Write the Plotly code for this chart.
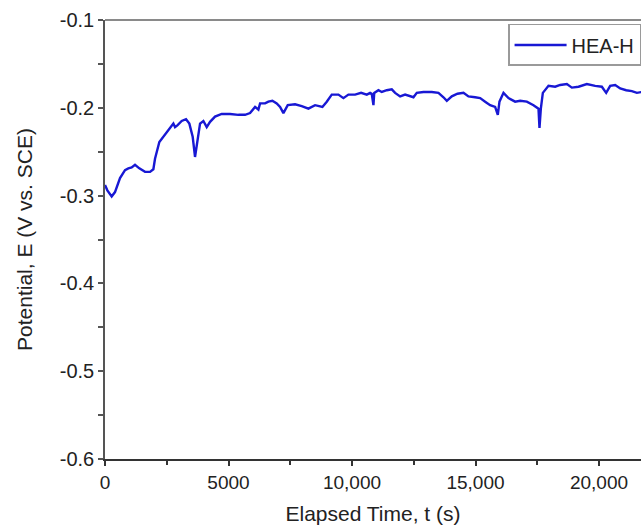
import plotly.graph_objects as go

# Elapsed time (s) and potential (V vs. SCE)
time_s = [0, 95, 270, 405, 608, 810, 945, 1080, 1215, 1390, 1620, 1823, 1958, 2025,
          2200, 2430, 2633, 2768, 2835, 2930, 3105, 3280, 3415, 3550, 3645, 3740,
          3848, 3983, 4118, 4253, 4455, 4725, 5063, 5400, 5670, 5873, 6075, 6210,
          6278, 6480, 6615, 6777, 6953, 7088, 7223, 7398, 7695, 7965, 8235, 8505,
          8802, 8978, 9180, 9450, 9653, 9855, 10125, 10368, 10598, 10733, 10800,
          10868, 10900, 11070, 11205, 11408, 11610, 11745, 11948, 12150, 12326,
          12488, 12623, 12893, 13230, 13500, 13703, 13838, 14040, 14270, 14513,
          14715, 14985, 15188, 15390, 15593, 15795, 15903, 15970, 16133, 16335,
          16605, 16808, 17078, 17348, 17550, 17590, 17645, 17726, 17955, 18225,
          18428, 18698, 18900, 19170, 19508, 19845, 20115, 20290, 20453, 20655,
          20858, 21100, 21330, 21533, 21735]
potential_v = [-0.288, -0.294, -0.301, -0.296, -0.280, -0.271, -0.269, -0.268, -0.265,
               -0.269, -0.273, -0.273, -0.270, -0.258, -0.239, -0.231, -0.223, -0.218,
               -0.222, -0.220, -0.215, -0.213, -0.218, -0.233, -0.256, -0.240, -0.218,
               -0.215, -0.222, -0.216, -0.210, -0.207, -0.207, -0.208, -0.208, -0.206,
               -0.199, -0.202, -0.195, -0.195, -0.193, -0.192, -0.195, -0.199, -0.206,
               -0.197, -0.196, -0.198, -0.201, -0.197, -0.199, -0.193, -0.185, -0.185,
               -0.189, -0.185, -0.185, -0.183, -0.185, -0.183, -0.184, -0.197, -0.183,
               -0.180, -0.182, -0.180, -0.179, -0.183, -0.187, -0.185, -0.187, -0.188,
               -0.183, -0.182, -0.182, -0.183, -0.188, -0.192, -0.187, -0.184, -0.183,
               -0.187, -0.188, -0.189, -0.193, -0.197, -0.199, -0.208, -0.193, -0.183,
               -0.189, -0.193, -0.192, -0.193, -0.197, -0.201, -0.223, -0.201, -0.183,
               -0.175, -0.176, -0.174, -0.173, -0.177, -0.176, -0.173, -0.175, -0.176,
               -0.183, -0.175, -0.174, -0.178, -0.180, -0.181, -0.183, -0.182]

series_name = "HEA-H"
x_tick_vals = [0, 5000, 10000, 15000, 20000]
x_tick_text = ["0", "5000", "10,000", "15,000", "20,000"]
y_tick_vals = [-0.6, -0.5, -0.4, -0.3, -0.2, -0.1]
y_tick_text = ["-0.6", "-0.5", "-0.4", "-0.3", "-0.2", "-0.1"]

font_family = "Liberation Sans, Arial, sans-serif"
text_color = "#222222"

fig = go.Figure()
fig.add_trace(go.Scatter(
    x=time_s, y=potential_v, mode="lines", name=series_name,
    line=dict(color="#1818d4", width=2.4),
))

fig.update_layout(
    width=641, height=531,
    margin=dict(l=105, r=0, t=20, b=72, autoexpand=False),
    paper_bgcolor="white", plot_bgcolor="white",
    font=dict(family=font_family, color=text_color, size=20),
    showlegend=True,
    legend=dict(
        x=0.752, y=0.991, xanchor="left", yanchor="top",
        bordercolor="#9a9a9a", borderwidth=1.5, bgcolor="white",
        font=dict(size=20, color=text_color),
        itemwidth=52,
        tracegroupgap=0,
    ),
)

fig.update_xaxes(
    range=[0, 21700], showgrid=False, zeroline=False,
    showline=True, linecolor="#333333", linewidth=1.5,
    ticks="outside", ticklen=5, tickwidth=1.5, tickcolor="#333333",
    tickvals=x_tick_vals, ticktext=x_tick_text,
    tickfont=dict(size=19, color=text_color),
    minor=dict(ticks="outside", ticklen=4, tickwidth=1.5, tickcolor="#333333",
               dtick=2500, tick0=0, showgrid=False),
    title=dict(text="Elapsed Time, t (s)", font=dict(size=21, color=text_color), standoff=15),
    automargin=False,
)
fig.update_yaxes(
    range=[-0.6, -0.1], showgrid=False, zeroline=False,
    showline=True, linecolor="#555555", linewidth=1.5,
    ticks="outside", ticklen=5, tickwidth=1.5, tickcolor="#555555",
    tickvals=y_tick_vals, ticktext=y_tick_text,
    tickfont=dict(size=20, color=text_color),
    minor=dict(ticks="outside", ticklen=5, tickwidth=1.5, tickcolor="#555555",
               dtick=0.05, tick0=-0.6, showgrid=False),
    title=dict(text="Potential, E (V vs. SCE)", font=dict(size=21, color=text_color), standoff=21),
    automargin=False,
)

# top frame line
fig.add_shape(type="line", xref="paper", yref="paper", x0=0, x1=1, y0=1, y1=1,
              line=dict(color="#8a8a8a", width=2))

fig.write_html("out.html")
